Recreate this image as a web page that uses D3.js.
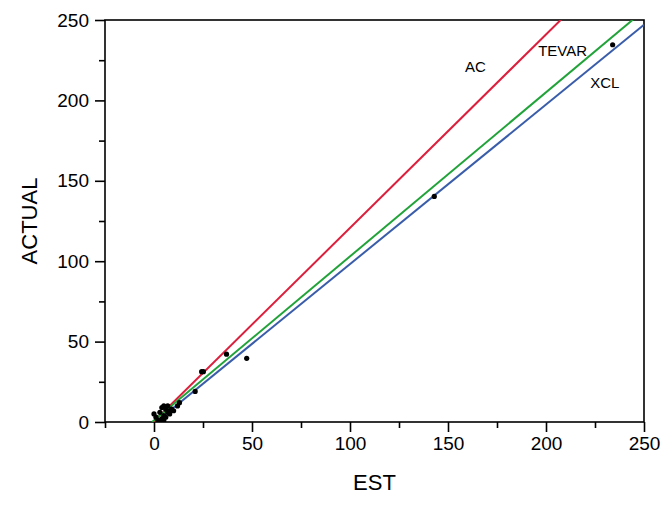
<!DOCTYPE html>
<html>
<head>
<meta charset="utf-8">
<script src="https://cdn.jsdelivr.net/npm/d3@7"></script>
<style>
  body { margin: 0; background: #fff; }
  text { font-family: "Liberation Sans", Arial, sans-serif; fill: #000; }
  .axis path, .axis line { stroke: #000; stroke-width: 1.6; }
  .axis text { font-size: 19px; }
  .fit { fill: none; stroke-width: 2; }
  .dot { fill: #000; }
</style>
</head>
<body>
<div id="chart"></div>
<script>
var width = 666, height = 507;

// data: estimated vs actual
var est    = [0, 1, 2, 3, 3, 4, 4, 5, 5, 5, 6, 6, 7, 7, 8, 8, 9, 10, 12, 13, 21, 24.3, 25.2, 37, 47.3, 143, 234];
var actual = [5, 3, 1, 6, 0, 2, 9, 4, 10, 1, 8, 3, 10, 6, 7, 5, 8, 7, 10, 12, 19, 31.3, 31.3, 42.2, 39.6, 140.3, 234.6];

// fitted lines: slope, intercept
var fitNames  = ["AC", "TEVAR", "XCL"];
var fitSlope  = [1.203, 1.02, 0.992];
var fitInter  = [0.4, 1.0, -1.0];
var fitColors = ["#dc1f3c", "#22a33a", "#3a5daa"];
var labelAt   = [[164, 221], [208.5, 231], [230, 211]]; // est, actual where labels sit

var xMajor = [0, 50, 100, 150, 200, 250];
var xMinor = [-25, 25, 75, 125, 175, 225];
var yMajor = [0, 50, 100, 150, 200, 250];
var yMinor = [25, 75, 125, 175, 225];

var x = d3.scaleLinear().domain([-25, 250]).range([105, 644]);
var y = d3.scaleLinear().domain([0, 250]).range([422, 20]);

var svg = d3.select("#chart").append("svg")
  .attr("width", width)
  .attr("height", height);

svg.append("clipPath").attr("id", "clip")
  .append("rect")
  .attr("x", x(-25)).attr("y", y(250))
  .attr("width", x(250) - x(-25)).attr("height", y(0) - y(250));

// box
svg.append("rect")
  .attr("x", x(-25)).attr("y", y(250))
  .attr("width", x(250) - x(-25)).attr("height", y(0) - y(250))
  .attr("fill", "none").attr("stroke", "#000").attr("stroke-width", 1.6);

// axes
svg.append("g").attr("class", "axis")
  .attr("transform", "translate(0," + y(0) + ")")
  .call(d3.axisBottom(x).tickValues(xMajor).tickSize(10).tickSizeOuter(0).tickPadding(5))
  .call(function(g) { g.select(".domain").remove(); });

svg.append("g").attr("class", "axis")
  .attr("transform", "translate(0," + y(0) + ")")
  .call(d3.axisBottom(x).tickValues(xMinor).tickSize(6).tickSizeOuter(0).tickFormat(""))
  .call(function(g) { g.select(".domain").remove(); });

svg.append("g").attr("class", "axis")
  .attr("transform", "translate(" + x(-25) + ",0)")
  .call(d3.axisLeft(y).tickValues(yMajor).tickSize(10).tickSizeOuter(0).tickPadding(6))
  .call(function(g) { g.select(".domain").remove(); });

svg.append("g").attr("class", "axis")
  .attr("transform", "translate(" + x(-25) + ",0)")
  .call(d3.axisLeft(y).tickValues(yMinor).tickSize(6).tickSizeOuter(0).tickFormat(""))
  .call(function(g) { g.select(".domain").remove(); });

// fit lines
var plot = svg.append("g").attr("clip-path", "url(#clip)");

fitNames.forEach(function(name, i) {
  var x0 = -fitInter[i] / fitSlope[i];
  plot.append("line")
    .attr("class", "fit")
    .attr("x1", x(x0)).attr("y1", y(0))
    .attr("x2", x(250)).attr("y2", y(fitSlope[i] * 250 + fitInter[i]))
    .attr("stroke", fitColors[i]);
});

// points
plot.selectAll(".dot")
  .data(est)
  .enter().append("circle")
    .attr("class", "dot")
    .attr("cx", function(d) { return x(d); })
    .attr("cy", function(d, i) { return y(actual[i]); })
    .attr("r", 2.6);

// line labels
svg.selectAll(".fitlabel")
  .data(fitNames)
  .enter().append("text")
    .attr("class", "fitlabel")
    .attr("x", function(d, i) { return x(labelAt[i][0]); })
    .attr("y", function(d, i) { return y(labelAt[i][1]); })
    .attr("text-anchor", "middle")
    .attr("dy", "0.35em")
    .style("font-size", "15px")
    .text(function(d) { return d; });

// axis titles
svg.append("text")
  .attr("x", (x(-25) + x(250)) / 2)
  .attr("y", 490)
  .attr("text-anchor", "middle")
  .style("font-size", "22px")
  .text("EST");

svg.append("text")
  .attr("transform", "translate(37," + (y(0) + y(250)) / 2 + ") rotate(-90)")
  .attr("text-anchor", "middle")
  .style("font-size", "22px")
  .text("ACTUAL");
</script>
</body>
</html>
